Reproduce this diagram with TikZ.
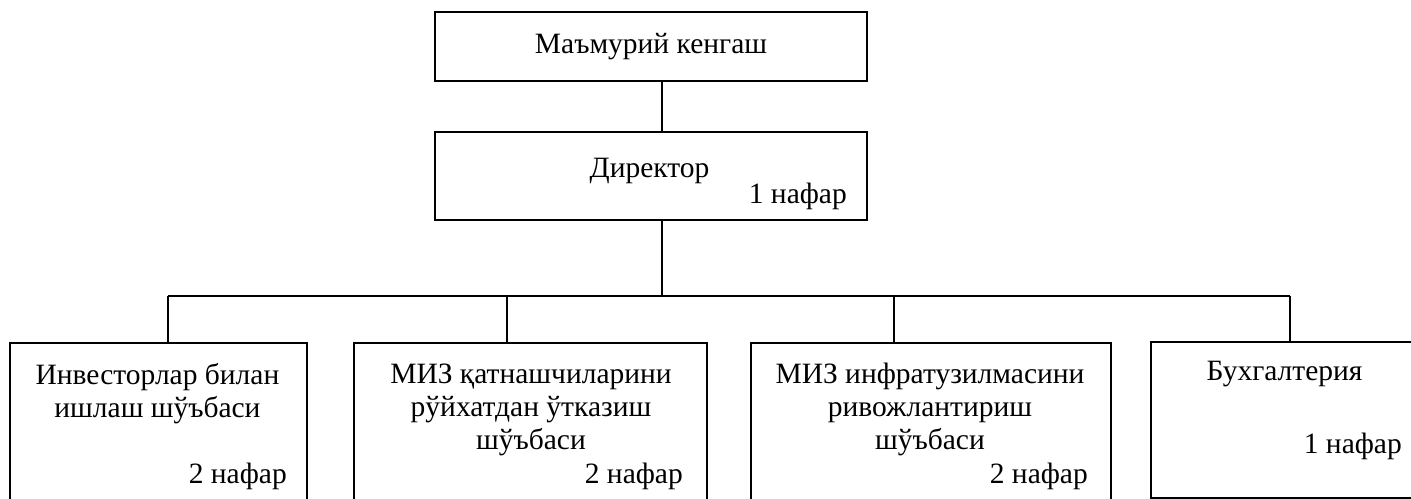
\documentclass[tikz,border=0pt]{standalone}
\usepackage{fontspec}
\setmainfont{Liberation Serif}
\tikzset{
  box/.style={draw, line width=1.8pt, inner sep=0pt},
  link/.style={line width=1.4pt},
  txt/.style={inner sep=0pt, align=center, anchor=base},
  staff/.style={inner sep=0pt, anchor=base east}
}
\begin{document}
\begin{tikzpicture}[x=1pt, y=-1pt, font=\fontsize{29.5}{33}\selectfont]
\useasboundingbox (0,0) rectangle (1411,498);
% Leitung
\node[box, minimum width=432, minimum height=69] (council) at (651,46.5) {Маъмурий кенгаш};
\node[box, minimum width=432, minimum height=88] (director) at (651,176) {};
\node[txt] (directorname) at (649.5,177) {Директор};
\node[staff] (directorstaff) at (847,203) {1 нафар};

% Abteilungen (Grundlinie = letzte Zeile)
\node[box, minimum width=297, minimum height=164] (invest) at (158.5,425) {};
\node[txt] (investname) at (157.5,417) {Инвесторлар билан\\ишлаш шўъбаси};
\node[staff] (investstaff) at (287,483) {2 нафар};

\node[box, minimum width=353, minimum height=164] (register) at (530.5,425) {};
\node[txt] (registername) at (531,449) {МИЗ қатнашчиларини\\рўйхатдан ўтказиш\\шўъбаси};
\node[staff] (registerstaff) at (683,483) {2 нафар};

\node[box, minimum width=360, minimum height=164] (infra) at (931,425) {};
\node[txt] (infraname) at (930,449) {МИЗ инфратузилмасини\\ривожлантириш\\шўъбаси};
\node[staff] (infrastaff) at (1088,483) {2 нафар};

\node[box, minimum width=267, minimum height=156] (buh) at (1284.5,420) {};
\node[txt] (buhname) at (1284.5,380) {Бухгалтерия};
\node[staff] (buhstaff) at (1402,453) {1 нафар};

% Verbindungen
\coordinate (tapD) at (662,106);
\coordinate (busL) at (168,296);
\coordinate (busR) at (1290,296);
\coordinate (tapM) at (662,296);
\coordinate (tapB) at (507,296);
\coordinate (tapC) at (894,296);
\draw[link] (council.south -| tapD) -- (director.north -| tapD);
\draw[link] (director.south -| tapM) -- (tapM);
\draw[link] (busL) -- (busR);
\draw[link] (busL) -- (busL |- invest.north);
\draw[link] (tapB) -- (tapB |- register.north);
\draw[link] (tapC) -- (tapC |- infra.north);
\draw[link] (busR) -- (busR |- buh.north);
\end{tikzpicture}
\end{document}
